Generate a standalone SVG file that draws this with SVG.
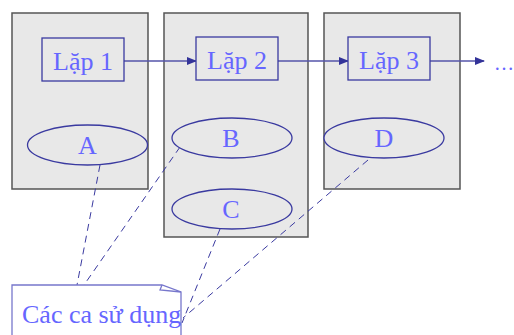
<svg xmlns="http://www.w3.org/2000/svg" width="514" height="335" viewBox="0 0 514 335">
<defs>
<style>
.pkg{fill:#e8e8e8;stroke:#555555;stroke-width:1.5}
.it{fill:#e8e8e8;stroke:#3a3aa0;stroke-width:1.3}
.uc{fill:#e8e8e8;stroke:#3a3aa0;stroke-width:1.3}
.t{font-family:"Liberation Serif",serif;font-size:26px;fill:#6666ff;text-anchor:middle}
.flow{stroke:#5555aa;stroke-width:1.3;fill:none}
.dash{stroke:#3a3aa0;stroke-width:1;fill:none;stroke-dasharray:7,5}
</style>
<marker id="ah" markerWidth="10" markerHeight="8" refX="9" refY="4" orient="auto" markerUnits="userSpaceOnUse">
<path d="M0,0 L10,4 L0,8 Z" fill="#333399"/>
</marker>
</defs>
<rect width="514" height="335" fill="#ffffff"/>
<g id="pkg1"><rect class="pkg" x="12" y="13" width="136" height="176"/></g>
<g id="pkg2"><rect class="pkg" x="164" y="13" width="144" height="224"/></g>
<g id="pkg3"><rect class="pkg" x="324" y="13" width="136" height="176"/></g>
<g id="connectors">
<line class="flow" x1="124" y1="61" x2="196" y2="61" marker-end="url(#ah)"/>
<line class="flow" x1="278" y1="61" x2="348" y2="61" marker-end="url(#ah)"/>
<line class="flow" x1="430" y1="61" x2="484" y2="61" marker-end="url(#ah)"/>
<line class="dash" x1="100" y1="165" x2="77" y2="285"/>
<line class="dash" x1="180" y1="147" x2="84" y2="285"/>
<line class="dash" x1="220" y1="229" x2="182" y2="323"/>
<line class="dash" x1="368" y1="160" x2="183" y2="318"/>
</g>
<g id="lap1"><rect class="it" x="42" y="38" width="82" height="43"/><text class="t" x="83" y="70">Lặp 1</text></g>
<g id="lap2"><rect class="it" x="196" y="37" width="82" height="43"/><text class="t" x="237" y="69">Lặp 2</text></g>
<g id="lap3"><rect class="it" x="348" y="37" width="82" height="43"/><text class="t" x="389" y="69">Lặp 3</text></g>
<g id="dots"><text x="494" y="70" style="font-family:'Liberation Serif',serif;font-size:20px;fill:#6666ff">…</text></g>
<g id="ucA"><ellipse class="uc" cx="87.5" cy="145" rx="60" ry="20"/><text class="t" x="87.5" y="154">A</text></g>
<g id="ucB"><ellipse class="uc" cx="232" cy="138" rx="60" ry="20"/><text class="t" x="231" y="147">B</text></g>
<g id="ucC"><ellipse class="uc" cx="232" cy="209" rx="60" ry="20"/><text class="t" x="231" y="218">C</text></g>
<g id="ucD"><ellipse class="uc" cx="384" cy="138" rx="60" ry="20"/><text class="t" x="384" y="147">D</text></g>
<g id="note">
<path d="M12,336 L12,285 L162,285 L181,292 L181,336" fill="#ffffff" stroke="#7777cc" stroke-width="1.3"/>
<path d="M162,285 L160,290 L181,292" fill="none" stroke="#7777cc" stroke-width="1.3"/>
<text x="22" y="323" style="font-family:'Liberation Serif',serif;font-size:26px;fill:#6666ff">Các ca sử dụng</text>
</g>
</svg>
